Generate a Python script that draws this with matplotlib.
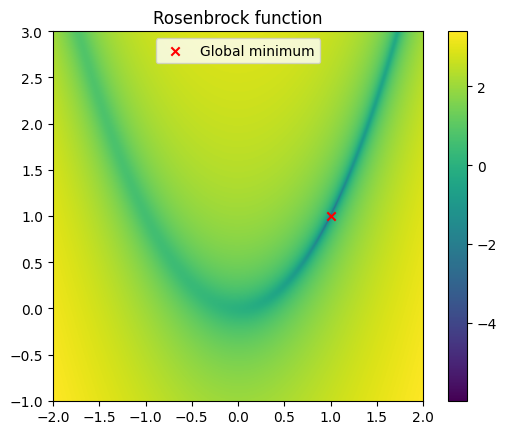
import numpy as np
import matplotlib
matplotlib.use("Agg")
import matplotlib.pyplot as plt

# Domain of the plotted Rosenbrock function
x_range = [-2.0, 2.0]
y_range = [-1.0, 3.0]
grid_n = 500
a_param = 1.0
b_param = 100.0
minimum_point = [1.0, 1.0]
color_limits = [-5.98, 3.40]
x_ticks = [-2.0, -1.5, -1.0, -0.5, 0.0, 0.5, 1.0, 1.5, 2.0]
y_ticks = [-1.0, -0.5, 0.0, 0.5, 1.0, 1.5, 2.0, 2.5, 3.0]
cbar_ticks = [-4, -2, 0, 2]

xs = np.linspace(x_range[0], x_range[1], grid_n)
ys = np.linspace(y_range[0], y_range[1], grid_n)
X, Y = np.meshgrid(xs, ys)
Z = (a_param - X) ** 2 + b_param * (Y - X ** 2) ** 2
logZ = np.log10(Z)

fig = plt.figure(figsize=(5.06, 4.35), dpi=100)
ax = fig.add_axes([53 / 506, 1 - 401.7 / 435, (423 - 53) / 506, (401.7 - 32.3) / 435])
cax = fig.add_axes([448 / 506, 1 - 401.7 / 435, (467 - 448) / 506, (401.7 - 32.3) / 435])

im = ax.imshow(logZ, origin="lower", extent=[x_range[0], x_range[1], y_range[0], y_range[1]],
               cmap="viridis", vmin=color_limits[0], vmax=color_limits[1], aspect="auto")
ax.scatter([minimum_point[0]], [minimum_point[1]], color="red", marker="x", label="Global minimum", zorder=3)
ax.set_xticks(x_ticks)
ax.set_yticks(y_ticks)
ax.set_title("Rosenbrock function")
ax.legend(loc="upper center")
cb = fig.colorbar(im, cax=cax)
cb.set_ticks(cbar_ticks)
cb.set_ticklabels(["\u22124", "\u22122", "0", "2"])

fig.savefig("out.png", dpi=100)
